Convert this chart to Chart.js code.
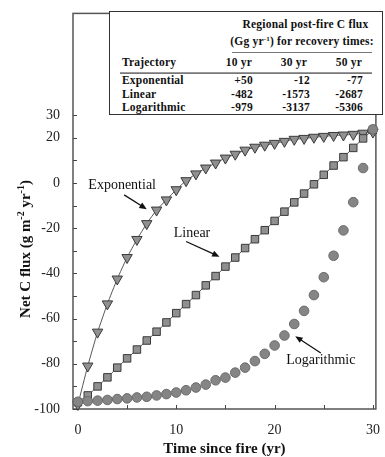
<!DOCTYPE html>
<html>
<head>
<meta charset="utf-8">
<script src="https://cdn.jsdelivr.net/npm/chart.js@4.4.1/dist/chart.umd.min.js"></script>
<style>
  body { margin: 0; background: #fff; }
  #cadre { position: relative; width: 385px; height: 457px; }
  #graphique { position: absolute; left: 0; top: 0; }
  .boite { position: absolute; left: 109px; top: 11px; width: 274px; height: 104px; box-sizing: border-box;
           border: 1.5px solid #333; background: #fff; }
  .cel { position: absolute; height: 14px; line-height: 14px; white-space: nowrap;
         font: bold 11.5px "Liberation Serif", serif; color: #111; letter-spacing: 0.2px; }
  .droite { text-align: right; }
  .regle { position: absolute; background: #777; height: 1px; }
  sup { font-size: 7px; line-height: 0; vertical-align: 4px; }
</style>
</head>
<body>
<div id="cadre">
  <canvas id="graphique" width="385" height="457"></canvas>
  <div class="boite"></div>
  <div class="cel" style="left:238px;top:18px;width:135px;text-align:center">Regional post-fire C flux</div>
  <div class="cel" style="left:227px;top:35px;width:150px;text-align:center">(Gg yr<sup>-1</sup>) for recovery times:</div>
  <div class="regle" style="left:232px;top:52px;width:140px"></div>
  <div class="cel" style="left:122px;top:56px">Trajectory</div>
  <div class="cel droite" style="left:212px;top:56px;width:40px">10 yr</div>
  <div class="cel droite" style="left:267px;top:56px;width:40px">30 yr</div>
  <div class="cel droite" style="left:322px;top:56px;width:40px">50 yr</div>
  <div class="regle" style="left:120px;top:72px;width:252px;height:1px;border-bottom:1px solid #777;background:#999"></div>
  <div id="lignes"></div>
</div>
<script>
// Donnees
let annees = [0, 1, 2, 3, 4, 5, 6, 7, 8, 9, 10, 11, 12, 13, 14, 15, 16, 17, 18, 19, 20, 21, 22, 23, 24, 25, 26, 27, 28, 29, 30];
let exponentielle = [-98, -81, -66, -53.5, -42.5, -33, -25, -18, -12, -7.5, -3, 1, 4, 6.6, 8.8, 11, 12.7, 14.5, 15.8, 16.7, 17.5, 18.4, 19.3, 19.7, 20.2, 20.6, 21, 21.2, 21.5, 22, 22.5];
let lineaire = [-97, -94, -90, -86, -81.7, -77.6, -73.7, -69.7, -65.8, -61.7, -57.6, -53.6, -49.6, -45.3, -41.2, -37, -33, -28.8, -24.9, -20.9, -16.8, -12.7, -8.6, -4.7, -0.6, 3.6, 7.7, 11.4, 15.5, 19.7, 23.5];
let logarithmique = [-96.8, -96.5, -96.3, -96, -95.6, -95.3, -94.9, -94.6, -94, -93.4, -92.7, -91.7, -90.5, -89.2, -87.3, -86.1, -83.9, -81.7, -78.8, -75.6, -71.9, -67.5, -62.4, -56.6, -49.6, -41.7, -32.2, -21, -8.5, 6.6, 23.7];

// Etiquettes et petits traits des axes
let ticksX = [0, 10, 20, 30];
let ticksY = [-100, -80, -60, -40, -20, 0, 20, 30];
let traitsX = [0, 5, 10, 15, 20, 25, 30];
let traitsY = [-100, -90, -80, -70, -60, -50, -40, -30, -20, -10, 0, 10, 20, 30];

// Tableau en haut
let trajectoires = ['Exponential', 'Linear', 'Logarithmic'];
let flux10 = ['+50', '-482', '-979'];
let flux30 = ['-12', '-1573', '-3137'];
let flux50 = ['-77', '-2687', '-5306'];

// Etiquettes dans le graphique (en unites des axes)
let notes = [
    { texte: 'Exponential', x: 4.5, y: -0.9, de: [4.7, -5.3], a: [7.0, -11.6] },
    { texte: 'Linear', x: 11.6, y: -22.4, de: [11.0, -25.9], a: [14.4, -32.6] },
    { texte: 'Logarithmic', x: 24.7, y: -78.5, de: [24.7, -75.2], a: [22.1, -67.8] }
];

// Lignes du tableau
let lignes = document.getElementById('lignes');
let hauts = [74, 88, 101];
for (let i = 0; i < trajectoires.length; i++) {
    lignes.innerHTML +=
        '<div class="cel" style="left:122px;top:' + hauts[i] + 'px">' + trajectoires[i] + '</div>' +
        '<div class="cel droite" style="left:203px;top:' + hauts[i] + 'px;width:50px">' + flux10[i] + '</div>' +
        '<div class="cel droite" style="left:260px;top:' + hauts[i] + 'px;width:50px">' + flux30[i] + '</div>' +
        '<div class="cel droite" style="left:313px;top:' + hauts[i] + 'px;width:50px">' + flux50[i] + '</div>';
}

function fleche(ctx, x1, y1, x2, y2) {
    let ang = Math.atan2(y2 - y1, x2 - x1);
    ctx.beginPath();
    ctx.moveTo(x1, y1);
    ctx.lineTo(x2 - 5 * Math.cos(ang), y2 - 5 * Math.sin(ang));
    ctx.stroke();
    ctx.beginPath();
    ctx.moveTo(x2, y2);
    ctx.lineTo(x2 - 8 * Math.cos(ang - 0.4), y2 - 8 * Math.sin(ang - 0.4));
    ctx.lineTo(x2 - 8 * Math.cos(ang + 0.4), y2 - 8 * Math.sin(ang + 0.4));
    ctx.closePath();
    ctx.fill();
}

const decor = {
    id: 'decor',
    beforeDatasetsDraw(chart) {
        const { ctx, chartArea: a, scales: { x, y } } = chart;
        ctx.save();
        ctx.strokeStyle = '#555';
        ctx.lineWidth = 1.5;
        ctx.strokeRect(a.left, a.top, a.right - a.left, a.bottom - a.top);
        ctx.lineWidth = 1;
        ctx.strokeStyle = '#444';
        ctx.beginPath();
        traitsX.forEach(v => {
            let px = Math.round(x.getPixelForValue(v)) + 0.5;
            ctx.moveTo(px, a.bottom);
            ctx.lineTo(px, a.bottom - 4);
        });
        traitsY.forEach(v => {
            let py = Math.round(y.getPixelForValue(v)) + 0.5;
            ctx.moveTo(a.left, py);
            ctx.lineTo(a.left + 4, py);
        });
        ctx.stroke();
        ctx.restore();
    },
    afterDatasetsDraw(chart) {
        const { ctx, scales: { x, y } } = chart;
        ctx.save();
        ctx.fillStyle = '#111';
        ctx.strokeStyle = '#111';
        ctx.lineWidth = 1.3;
        ctx.font = '14px "Liberation Serif"';
        ctx.textAlign = 'center';
        ctx.textBaseline = 'middle';
        notes.forEach(n => {
            ctx.fillText(n.texte, x.getPixelForValue(n.x), y.getPixelForValue(n.y));
            fleche(ctx, x.getPixelForValue(n.de[0]), y.getPixelForValue(n.de[1]),
                x.getPixelForValue(n.a[0]), y.getPixelForValue(n.a[1]));
        });
        ctx.restore();
    },
    afterDraw(chart) {
        // Titre de l'axe Y avec exposants
        const ctx = chart.ctx;
        let morceaux = [['Net C flux (g m', false], ['-2', true], [' yr', false], ['-1', true], [')', false]];
        ctx.save();
        ctx.translate(25, 249);
        ctx.rotate(-Math.PI / 2);
        ctx.fillStyle = '#111';
        ctx.textBaseline = 'alphabetic';
        let total = 0;
        morceaux.forEach(m => {
            ctx.font = m[1] ? 'bold 10px "Liberation Serif"' : 'bold 15px "Liberation Serif"';
            total += ctx.measureText(m[0]).width;
        });
        let pos = -total / 2;
        morceaux.forEach(m => {
            ctx.font = m[1] ? 'bold 10px "Liberation Serif"' : 'bold 15px "Liberation Serif"';
            ctx.fillText(m[0], pos, m[1] ? -1 : 5);
            pos += ctx.measureText(m[0]).width;
        });
        ctx.restore();
    }
};

let ctx = document.getElementById('graphique').getContext('2d');
let chart = new Chart(ctx, {
    type: 'line',
    data: {
        datasets: [{
            label: 'Logarithmic',
            data: annees.map((a, i) => ({ x: a, y: logarithmique[i] })),
            showLine: false,
            pointStyle: 'circle',
            pointRadius: 4.8,
            backgroundColor: '#858585',
            borderColor: '#6a6a6a',
            pointBorderWidth: 1,
            clip: false
        }, {
            label: 'Linear',
            data: annees.map((a, i) => ({ x: a, y: lineaire[i] })),
            pointStyle: 'rect',
            pointRadius: 5.3,
            backgroundColor: '#909090',
            borderColor: '#555',
            pointBorderColor: '#3a3a3a',
            borderWidth: 1,
            pointBorderWidth: 1,
            clip: false
        }, {
            label: 'Exponential',
            data: annees.map((a, i) => ({ x: a, y: exponentielle[i] })),
            pointStyle: 'triangle',
            rotation: 180,
            pointRadius: 6,
            backgroundColor: '#909090',
            borderColor: '#555',
            pointBorderColor: '#3a3a3a',
            borderWidth: 1,
            pointBorderWidth: 1,
            tension: 0.2,
            clip: false
        }]
    },
    options: {
        responsive: false,
        animation: false,
        layout: { padding: { top: 11, right: 2, left: 0, bottom: 0 } },
        plugins: { legend: { display: false }, tooltip: { enabled: false } },
        scales: {
            x: {
                type: 'linear',
                min: -0.5,
                max: 30.3,
                grid: { display: false },
                border: { display: false },
                afterBuildTicks: s => { s.ticks = ticksX.map(v => ({ value: v })); },
                afterFit: s => { s.height = 48; },
                ticks: { padding: 5, color: '#222', font: { family: 'Liberation Serif', size: 14 } },
                title: {
                    display: true,
                    text: 'Time since fire (yr)',
                    color: '#111',
                    padding: { top: 0, bottom: 0 },
                    font: { family: 'Liberation Serif', size: 15, weight: 'bold', lineHeight: 1 }
                }
            },
            y: {
                min: -100,
                max: 75,
                grid: { display: false },
                border: { display: false },
                afterBuildTicks: s => { s.ticks = ticksY.map(v => ({ value: v })); },
                afterFit: s => { s.width = 73; },
                ticks: { padding: 5, color: '#222', font: { family: 'Liberation Serif', size: 14 } }
            }
        }
    },
    plugins: [decor]
});
</script>
</body>
</html>
